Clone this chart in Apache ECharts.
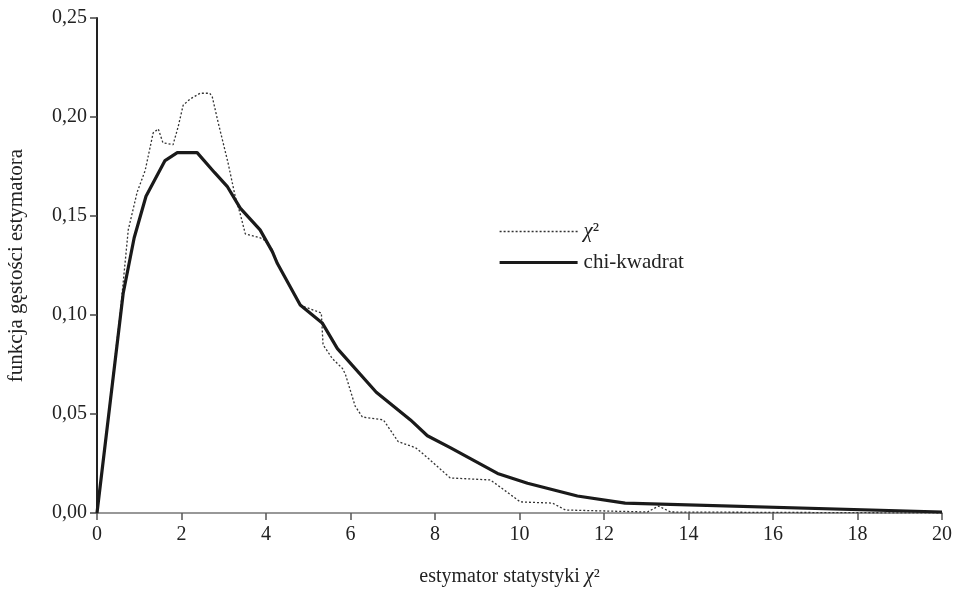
<!DOCTYPE html>
<html>
<head>
<meta charset="utf-8">
<script src="https://cdn.jsdelivr.net/npm/echarts@6/dist/echarts.min.js"></script>
<style>
  html, body { margin: 0; padding: 0; background: #fff; }
</style>
</head>
<body>
<div id="chart" style="width: 959px; height: 594px;"></div>
<script>
// teoretyczny rozkład chi-kwadrat (linia ciągła)
var chiX = [0, 0.62, 0.88, 1.16, 1.61, 1.90, 2.37, 2.78, 3.08, 3.39, 3.86, 4.15, 4.27, 4.81, 5.33, 5.69, 6.61, 7.42, 7.82, 8.36, 9.48, 10.19, 11.37, 12.50, 20];
var chiY = [0, 0.111, 0.139, 0.160, 0.178, 0.182, 0.182, 0.172, 0.165, 0.154, 0.143, 0.132, 0.126, 0.105, 0.096, 0.083, 0.061, 0.047, 0.039, 0.033, 0.020, 0.015, 0.0086, 0.005, 0.0005];

// empiryczna gęstość estymatora (linia kropkowana)
var empX = [0, 0.55, 0.74, 0.95, 1.14, 1.33, 1.45, 1.56, 1.80, 1.92, 2.04, 2.20, 2.44, 2.67, 2.73, 2.87, 3.10, 3.27, 3.39, 3.51, 3.86, 3.95, 4.15, 4.27, 4.45, 4.81, 4.93, 5.31, 5.35, 5.57, 5.81, 5.88, 6.11, 6.28, 6.78, 7.13, 7.54, 7.82, 8.36, 9.31, 9.55, 10.02, 10.78, 11.09, 13.03, 13.29, 13.58, 20];
var empY = [0, 0.101, 0.143, 0.162, 0.173, 0.192, 0.194, 0.187, 0.186, 0.195, 0.206, 0.209, 0.212, 0.212, 0.210, 0.197, 0.177, 0.160, 0.151, 0.141, 0.139, 0.138, 0.133, 0.126, 0.119, 0.105, 0.104, 0.101, 0.085, 0.078, 0.073, 0.070, 0.054, 0.0485, 0.047, 0.036, 0.033, 0.028, 0.0177, 0.0167, 0.013, 0.0056, 0.005, 0.0015, 0.0005, 0.0035, 0.0005, 0];

var xTicks = [0, 2, 4, 6, 8, 10, 12, 14, 16, 18, 20];

function pairs(xs, ys) {
  return xs.map(function (x, i) { return [x, ys[i]]; });
}

var font = "Liberation Serif";
var ink = "#222";
var chart = echarts.init(document.getElementById("chart"));
chart.setOption({
  animation: false,
  backgroundColor: "#fff",
  textStyle: { fontFamily: font },
  grid: { left: 97, right: 17, top: 18, bottom: 81, outerBoundsMode: "none" },
  legend: {
    orient: "vertical",
    left: 498,
    top: 221,
    padding: 0,
    itemWidth: 78,
    itemHeight: 14,
    itemGap: 10,
    itemStyle: { opacity: 0 },
    lineStyle: { width: "inherit" },
    data: ["χ²", "chi-kwadrat"],
    formatter: function (name) {
      return name === "χ²" ? "{i|χ}²" : name;
    },
    textStyle: {
      fontFamily: font,
      fontSize: 21,
      color: ink,
      padding: [0, 0, 0, 1],
      rich: { i: { fontFamily: font, fontStyle: "italic", fontSize: 21, color: ink } }
    }
  },
  xAxis: {
    type: "value",
    min: 0,
    max: 20,
    interval: 2,
    name: "estymator statystyki {i|χ}²",
    nameLocation: "middle",
    nameGap: 54,
    nameTextStyle: {
      fontFamily: font, fontSize: 20, color: ink,
      padding: [0, 20, 0, 0],
      rich: { i: { fontFamily: font, fontStyle: "italic", fontSize: 20, color: ink } }
    },
    axisLine: { lineStyle: { color: "#777", width: 1.5 } },
    axisTick: { length: 7, lineStyle: { color: "#555", width: 1.5 } },
    axisLabel: {
      margin: 12, fontFamily: font, fontSize: 20, color: ink,
      customValues: xTicks
    },
    splitLine: { show: false }
  },
  yAxis: {
    type: "value",
    min: 0,
    max: 0.25,
    interval: 0.05,
    name: "funkcja gęstości estymatora",
    nameLocation: "middle",
    nameRotate: 90,
    nameGap: 70,
    nameTextStyle: { fontFamily: font, fontSize: 21, color: ink },
    axisLine: { show: true, lineStyle: { color: ink, width: 2 } },
    axisTick: { show: true, length: 7, lineStyle: { color: "#444", width: 1.5 } },
    axisLabel: {
      margin: 10, fontFamily: font, fontSize: 20, color: ink,
      formatter: function (v) { return v.toFixed(2).replace(".", ","); }
    },
    splitLine: { show: false }
  },
  series: [
    {
      name: "χ²",
      type: "line",
      symbol: "none",
      data: pairs(empX, empY),
      itemStyle: { color: "#333" },
      lineStyle: { color: "#333", width: 1.3, type: [2, 2] },
      z: 2
    },
    {
      name: "chi-kwadrat",
      type: "line",
      symbol: "none",
      data: pairs(chiX, chiY),
      itemStyle: { color: "#1a1a1a" },
      lineStyle: { color: "#1a1a1a", width: 3.2 },
      z: 3
    }
  ]
});
</script>
</body>
</html>
